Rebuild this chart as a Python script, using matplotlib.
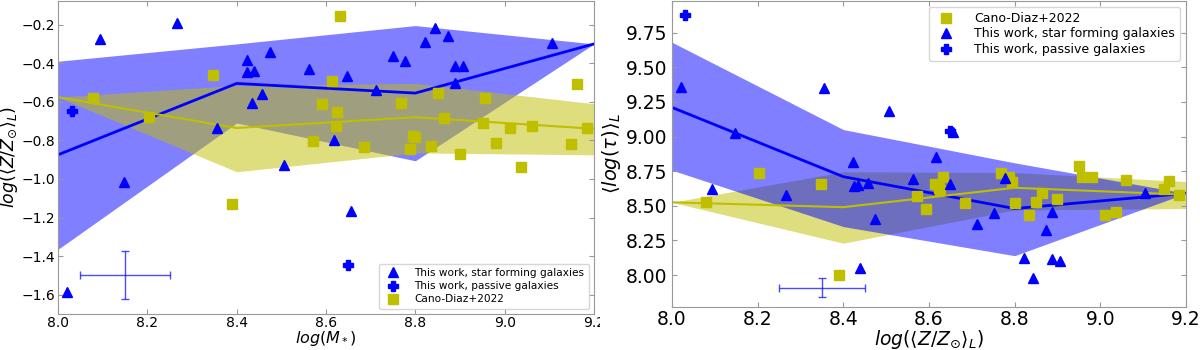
import matplotlib
matplotlib.use("Agg")
import numpy as np
from matplotlib import pyplot as plt
from matplotlib.transforms import Bbox, TransformedBbox

# binned medians and 1-sigma bands, bins at 8.0 / 8.4 / 8.8 / 9.2
BIN_X = [8.0, 8.4, 8.8, 9.2]

sf_z_med = [-0.875, -0.505, -0.555, -0.30]
sf_z_hi = [-0.39, -0.30, -0.205, -0.30]
sf_z_lo = [-1.365, -0.71, -0.906, -0.30]
cd_z_med = [-0.576, -0.736, -0.68, -0.74]
cd_z_hi = [-0.576, -0.515, -0.505, -0.61]
cd_z_lo = [-0.576, -0.963, -0.865, -0.875]

sf_t_med = [9.21, 8.71, 8.48, 8.59]
sf_t_hi = [9.68, 9.05, 8.81, 8.59]
sf_t_lo = [8.757, 8.35, 8.14, 8.59]
cd_t_med = [8.525, 8.49, 8.63, 8.58]
cd_t_hi = [8.525, 8.745, 8.74, 8.675]
cd_t_lo = [8.525, 8.23, 8.47, 8.48]

# this work, star forming galaxies
sf_x = [8.02, 8.094, 8.148, 8.267, 8.356, 8.423, 8.424, 8.435, 8.438, 8.457,
        8.475, 8.507, 8.563, 8.617, 8.648, 8.655, 8.713, 8.751, 8.778, 8.821,
        8.843, 8.874, 8.888, 8.888, 8.906, 9.105]
sf_z = [-1.587, -0.272, -1.014, -0.19, -0.736, -0.448, -0.386, -0.608, -0.44, -0.56,
        -0.34, -0.93, -0.432, -0.798, -0.468, -1.164, -0.54, -0.365, -0.39, -0.292,
        -0.22, -0.258, -0.415, -0.505, -0.415, -0.297]
sf_tau = [9.354, 8.62, 9.023, 8.576, 9.347, 8.814, 8.641, 8.648, 8.05, 8.663,
          8.404, 9.181, 8.692, 8.85, 8.656, 9.03, 8.368, 8.447, 8.699, 8.123,
          7.979, 8.324, 8.454, 8.116, 8.101, 8.591]

# this work, passive galaxies
pa_x = [8.031, 8.65]
pa_z = [-0.648, -1.447]
pa_tau = [9.88, 9.04]

# Cano-Diaz+2022
cd_x = [8.079, 8.204, 8.348, 8.39, 8.572, 8.592, 8.614, 8.623, 8.625, 8.632,
        8.684, 8.769, 8.787, 8.794, 8.80, 8.834, 8.85, 8.865, 8.899, 8.951,
        8.957, 8.98, 9.011, 9.036, 9.061, 9.148, 9.161, 9.184]
cd_z = [-0.578, -0.68, -0.463, -1.128, -0.803, -0.612, -0.494, -0.726, -0.654, -0.154,
        -0.834, -0.604, -0.845, -0.777, -0.784, -0.828, -0.557, -0.686, -0.87, -0.71,
        -0.583, -0.815, -0.736, -0.94, -0.726, -0.818, -0.51, -0.736]
cd_tau = [8.526, 8.735, 8.656, 8.0, 8.569, 8.476, 8.656, 8.63, 8.612, 8.706,
          8.519, 8.735, 8.706, 8.67, 8.519, 8.433, 8.526, 8.59, 8.548, 8.785,
          8.706, 8.706, 8.433, 8.454, 8.684, 8.62, 8.677, 8.576]

# typical uncertainties (x, y, xerr, yerr)
err_left = (8.15, -1.5, 0.1, 0.125)
err_right = (8.35, 7.91, 0.1, 0.07)

X_TICKS = [8.0, 8.2, 8.4, 8.6, 8.8, 9.0, 9.2]
TAU_TICKS = [8.0, 8.25, 8.5, 8.75, 9.0, 9.25, 9.5, 9.75]


def style_axes(ax, label_size, xpad=2.5, ypad=3.5):
    for sp in ax.spines.values():
        sp.set_color("#999999")
    ax.tick_params(direction="in", top=True, right=True, length=3.5,
                   color="#999999", labelsize=label_size)
    ax.tick_params(axis="x", pad=xpad)
    ax.tick_params(axis="y", pad=ypad)
    ax.set_xticks(X_TICKS)
    ax.set_xlim(8.0, 9.2)


fig = plt.figure(figsize=(12, 3.5), dpi=100)

# ---- left: metallicity vs mass
ax1 = fig.add_axes([0.0483, 0.103, 0.4467, 0.895])
ax1.fill_between(BIN_X, sf_z_lo, sf_z_hi, color="b", alpha=0.5, lw=0)
ax1.fill_between(BIN_X, cd_z_lo, cd_z_hi, color="y", alpha=0.5, lw=0)
ax1.plot(BIN_X, sf_z_med, color="b", lw=2)
ax1.plot(BIN_X, cd_z_med, color="y", lw=1.5)
ax1.plot(sf_x, sf_z, "^", color="b", ms=7, ls="none",
         label="This work, star forming galaxies")
ax1.plot(pa_x, pa_z, "P", color="b", ms=7, ls="none",
         label="This work, passive galaxies")
ax1.plot(cd_x, cd_z, "s", color="y", ms=6.5, ls="none", label="Cano-Diaz+2022")
ax1.errorbar(err_left[0], err_left[1], xerr=err_left[2], yerr=err_left[3],
             color="b", alpha=0.7, lw=1, capsize=3)
style_axes(ax1, 10, xpad=1.5, ypad=2)
ax1.set_ylim(-1.70, -0.076)
ax1.set_yticks(np.round(np.arange(-1.6, -0.1, 0.2), 1))
ax1.set_xlabel(r"$log(M_*)$", fontsize=11.5)
ax1.xaxis.set_label_coords(0.5, -0.049)
ax1.set_ylabel(r"$log(\langle Z/Z_{\odot}\rangle_L)$", fontsize=12.5)
ax1.yaxis.set_label_coords(-0.071, 0.5)
ax1.legend(loc="lower right", fontsize=7.6, numpoints=1, handletextpad=1.0,
           borderpad=0.4, labelspacing=0.3)

# the last tick label is cut at the panel boundary in the original
fig.canvas.draw()
clip = TransformedBbox(Bbox([[0, 0], [0.5, 1]]), fig.transFigure)
for tick in ax1.xaxis.get_major_ticks():
    tick.label1.set_clip_box(clip)
    tick.label1.set_clip_on(True)

# ---- right: age vs metallicity
ax2 = fig.add_axes([0.56, 0.123, 0.4283, 0.875])
ax2.fill_between(BIN_X, cd_t_lo, cd_t_hi, color="y", alpha=0.5, lw=0)
ax2.fill_between(BIN_X, sf_t_lo, sf_t_hi, color="b", alpha=0.5, lw=0)
ax2.plot(BIN_X, sf_t_med, color="b", lw=2)
ax2.plot(BIN_X, cd_t_med, color="y", lw=1.5)
ax2.plot(cd_x, cd_tau, "s", color="y", ms=6.5, ls="none", label="Cano-Diaz+2022")
ax2.plot(sf_x, sf_tau, "^", color="b", ms=7, ls="none",
         label="This work, star forming galaxies")
ax2.plot(pa_x, pa_tau, "P", color="b", ms=7, ls="none",
         label="This work, passive galaxies")
ax2.errorbar(err_right[0], err_right[1], xerr=err_right[2], yerr=err_right[3],
             color="b", alpha=0.7, lw=1, capsize=3)
style_axes(ax2, 13.5)
ax2.set_ylim(7.77, 9.98)
ax2.set_yticks(TAU_TICKS)
ax2.set_yticklabels([f"{v:.2f}" for v in TAU_TICKS])
ax2.set_xlabel(r"$log(\langle Z/Z_{\odot}\rangle_L)$", fontsize=13.5)
ax2.xaxis.set_label_coords(0.5, -0.068)
ax2.set_ylabel(r"$\langle log(\tau)\rangle_L$", fontsize=14)
ax2.yaxis.set_label_coords(-0.095, 0.5)
ax2.legend(loc="upper right", fontsize=9, numpoints=1, handletextpad=1.2,
           borderpad=0.4, labelspacing=0.2)

fig.savefig("out.png", dpi=100)
